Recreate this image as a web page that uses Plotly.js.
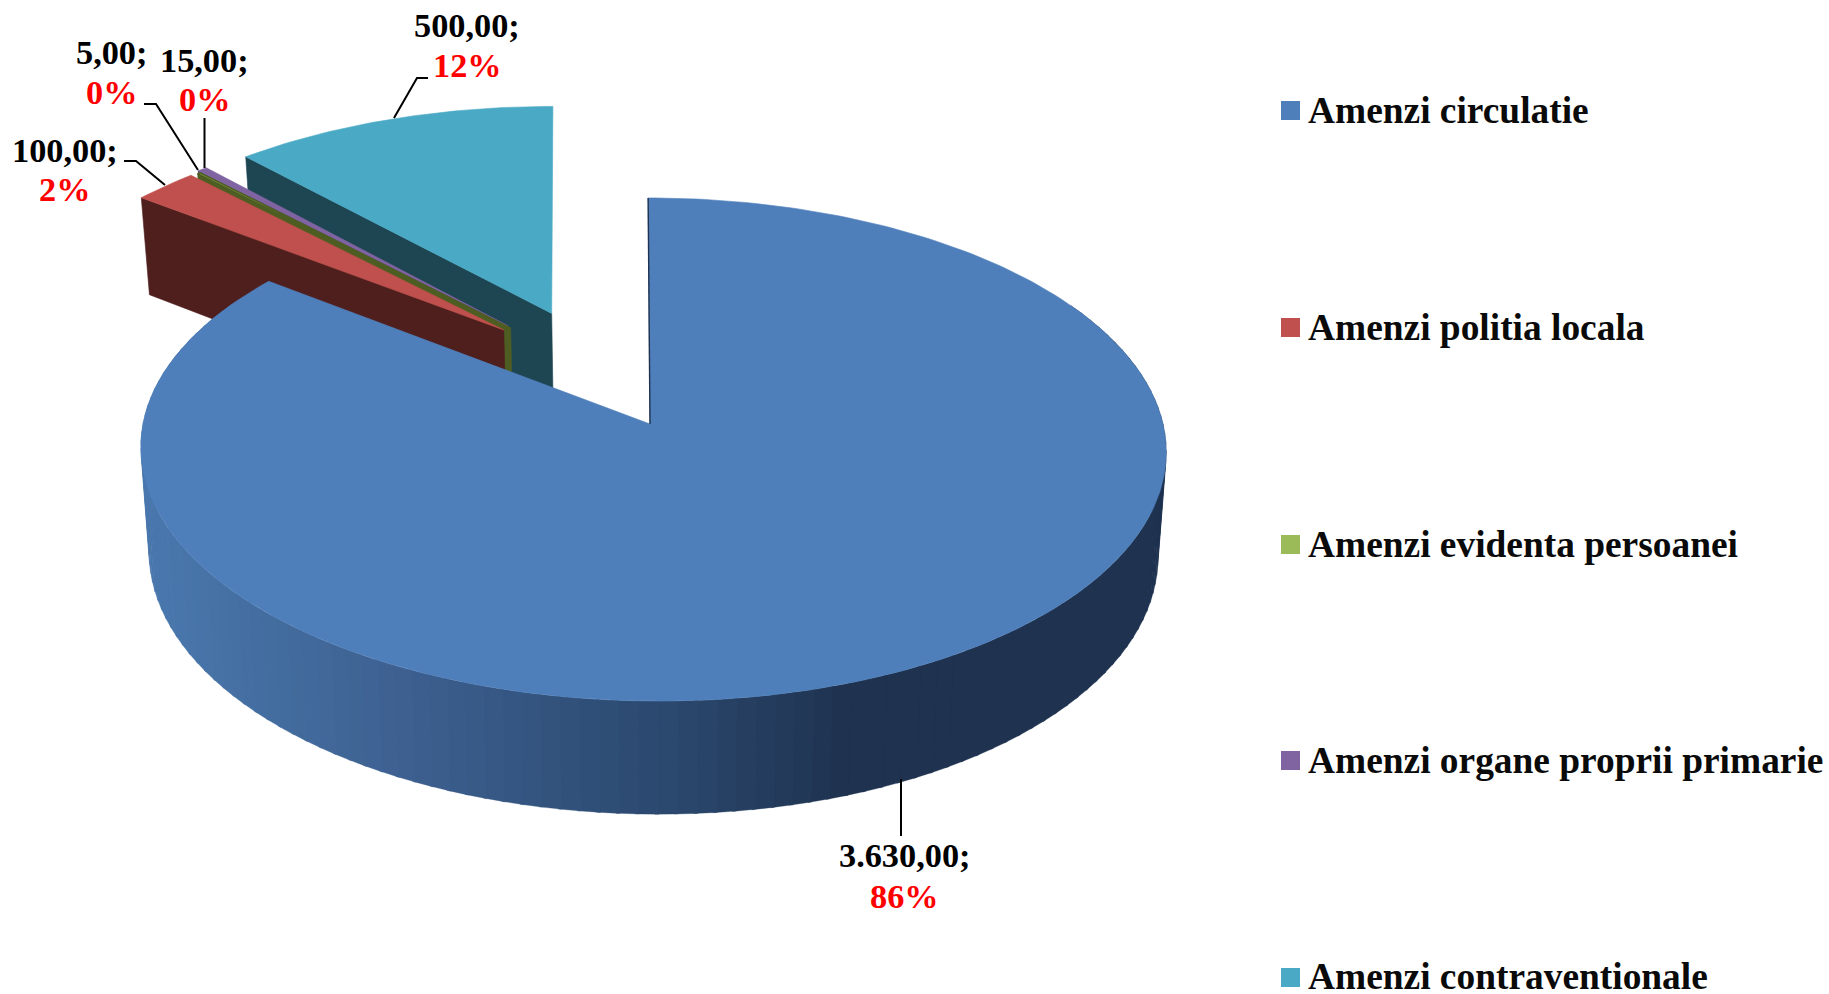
<!DOCTYPE html>
<html><head><meta charset="utf-8">
<script src="https://cdn.plot.ly/plotly-3.0.1.min.js"></script>
<style>html,body{margin:0;padding:0;background:#fff}#c{width:1829px;height:994px}</style>
</head><body><div id="c"></div>
<script>
// ---- data ----
const categories = ["Amenzi circulatie","Amenzi politia locala","Amenzi evidenta persoanei","Amenzi organe proprii primarie","Amenzi contraventionale"];
const values = [3630,100,5,15,500];
const valueLabels = ["3.630,00;","100,00;","5,00;","15,00;","500,00;"];
const percentLabels = ["86%","2%","0%","0%","12%"];
// ---- styles ----
const topColors = ["#4f7fbb","#c0504d","#9bbb59","#8064a2","#4aaac5"];
const sideColors = ["#1f3350","#4f1f1e","#4e5e22","#3f3160","#1d4552"];
// ---- projection (tilted pie with perspective) ----
const APEX=[650,424], A=510, B=249, K=0.1014, SHEAR=0.0215;
const RIMX=[3,-0.3,-0.3,-0.3,-2.8];
const explode=[[0,0],[-0.294,-0.3925],[-0.28,-0.40],[-0.285,-0.41],[-0.197,-0.465]];
function project(u,v){const w=1-K*v;const Y=B*v/w;return [APEX[0]+A*u/w+SHEAR*Y,APEX[1]+Y];}
function rim(i,deg,r){const t=deg*Math.PI/180;const p=project(explode[i][0]+r*Math.sin(t),explode[i][1]-r*Math.cos(t));p[0]+=r*RIMX[i];return p;}
function drop(p){const D=97+16*(p[1]-198)/500;return [APEX[0]+(p[0]-APEX[0])*0.984,p[1]+D];}
const total=values.reduce((a,b)=>a+b,0);
let cum=0;const spans=values.map(v=>{const s=cum/total*360;cum+=v;return [s,cum/total*360];});

const traces=[];
function poly(pts,color,lw,lc){traces.push({type:'scatter',mode:'lines',x:pts.map(p=>p[0]),y:pts.map(p=>p[1]),fill:'toself',fillcolor:color,line:{color:lc||color,width:lw===undefined?0.6:lw},hoverinfo:'skip',showlegend:false});}
function topFace(i){const [s,e]=spans[i];const pts=[rim(i,0,0)];const n=Math.max(2,Math.ceil((e-s)/1));for(let k=0;k<=n;k++)pts.push(rim(i,s+(e-s)*k/n,1));pts.push(rim(i,0,0));return pts;}
function sideFace(i,deg){const a=rim(i,deg,1),b=rim(i,0,0);return [a,b,drop(b),drop(a),a];}
// exploded slices, back to front
[4,3,2,1].forEach(i=>{
  const [s,e]=spans[i];
  poly(sideFace(i,s),sideColors[i]);
  poly(topFace(i),topColors[i],i===2?1.6:0.6,i===2?sideColors[2]:topColors[i]);
});
// blue outer wall with its horizontal shading
const wallStops=[[141,[74,120,174]],[260,[68,110,160]],[400,[61,96,144]],[560,[50,82,124]],[670,[43,72,110]],[840,[31,51,80]],[1170,[31,51,80]]];
function wallColor(x){for(let j=1;j<wallStops.length;j++){if(x<=wallStops[j][0]){const a=wallStops[j-1],b=wallStops[j],f=Math.max(0,(x-a[0])/(b[0]-a[0]));return 'rgb('+a[1].map((c,q)=>Math.round(c+(b[1][q]-c)*f)).join(',')+')';}}return 'rgb(31,51,80)';}
for(let d=60;d<300;d+=2){const a=rim(0,d,1),b=rim(0,d+2.4,1);poly([a,b,drop(b),drop(a),a],wallColor((a[0]+b[0])/2),0.3);}
poly(topFace(0),topColors[0]);
const e0=rim(0,0,1),c0=rim(0,0,0);
traces.push({type:'scatter',mode:'lines',x:[e0[0],c0[0]],y:[e0[1],c0[1]],line:{color:sideColors[0],width:1.4},hoverinfo:'skip',showlegend:false});
// legend
const legendX=1290.5,legendTextX=1308,legendY=[110.5,327.5,544.5,760.5,977.5];
traces.push({type:'scatter',mode:'markers',x:legendY.map(()=>legendX),y:legendY,marker:{symbol:'square',size:19,color:topColors,line:{width:0}},hoverinfo:'skip',showlegend:false});

const serif='"Liberation Serif","Times New Roman",serif';
const ann=[];
function txt(x,y,t,size,color,anchor){ann.push({xref:'x',yref:'y',x:x,y:y,text:'<b>'+t+'</b>',showarrow:false,xanchor:anchor||'center',yanchor:'middle',font:{family:serif,size:size,color:color},borderpad:0,borderwidth:0});}
const labelPos=[[904.5,855,896],[64.5,150,189],[111,52,92],[204,60,99],[467,25,65]];
labelPos.forEach((p,i)=>{txt(p[0],p[1],valueLabels[i],34.3,'#000');txt(p[0],p[2],percentLabels[i],34.3,'#ff0000');});
categories.forEach((c,i)=>txt(legendTextX,legendY[i]-(i===4?1.5:0.5),c,37.4,'#0a0a0a','left'));

const leaders=["M901,779 L901,836","M124,161 L136,161 L165,185","M144,104 L156,104 L198,170","M204.5,118 L204.5,168","M428,78 L417,78 L394,118"];
const shapes=leaders.map(p=>({type:'path',xref:'x',yref:'y',path:p,line:{color:'#000',width:2},layer:'above'}));

Plotly.newPlot('c',traces,{
  width:1829,height:994,margin:{l:0,r:0,t:0,b:0},paper_bgcolor:'#fff',plot_bgcolor:'#fff',showlegend:false,
  xaxis:{range:[0,1829],visible:false,fixedrange:true},
  yaxis:{range:[994,0],visible:false,fixedrange:true},
  annotations:ann,shapes:shapes
},{displayModeBar:false,staticPlot:true});
</script></body></html>
